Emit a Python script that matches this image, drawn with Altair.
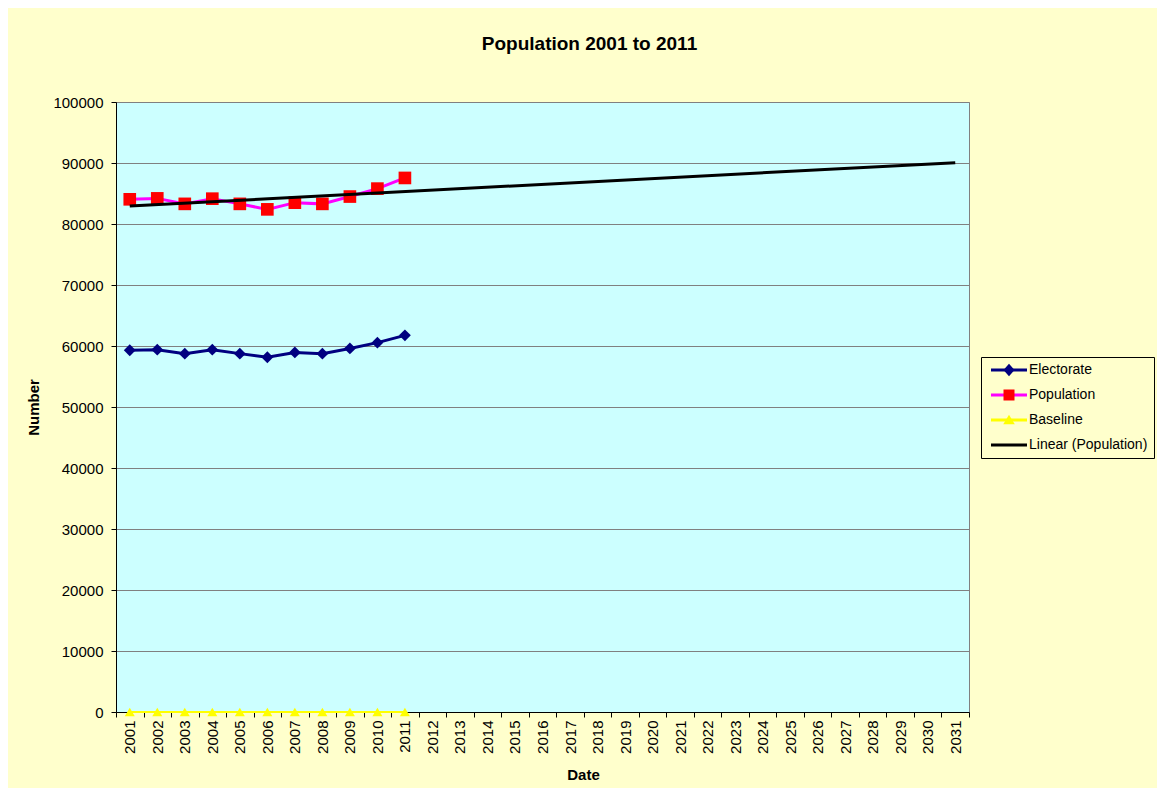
import altair as alt
import pandas as pd

FONT = "Liberation Sans"

# ---- data ----
years_all = [str(y) for y in range(2001, 2032)]
years_obs = [str(y) for y in range(2001, 2012)]
electorate = [59300, 59400, 58750, 59400, 58750, 58150, 58950, 58750, 59600, 60550, 61750]
population = [84050, 84200, 83300, 84150, 83300, 82400, 83500, 83300, 84500, 85800, 87550]
baseline = [0] * 11
trend_years = ["2001", "2031"]
trend_values = [82950, 90050]
y_ticks = list(range(0, 100001, 10000))

series_names = ["Electorate", "Population", "Baseline", "Linear (Population)"]
line_colors = ["#000080", "#FF00FF", "#FFFF00", "#000000"]
marker_colors = ["#000080", "#FF0000", "#FFFF00", "transparent"]

rows = []
for name, vals in [("Electorate", electorate), ("Population", population), ("Baseline", baseline)]:
    for yr, v in zip(years_obs, vals):
        rows.append({"year": yr, "series": name, "value": v})
df = pd.DataFrame(rows)
trend_df = pd.DataFrame({"year": trend_years, "value": trend_values, "series": "Linear (Population)"})

x_enc = alt.X(
    "year:O",
    bandPosition=0.5,
    scale=alt.Scale(type="band", domain=years_all, paddingInner=0, paddingOuter=0),
    axis=alt.Axis(
        title="Date", titleFont=FONT, titleFontSize=15, titleFontWeight="bold", titleColor="#000000",
        titleX=467, titleY=62, titleBaseline="middle", titleAlign="center",
        labelAngle=270, labelAlign="right", labelBaseline="middle", labelPadding=3,
        labelFont=FONT, labelFontSize=15, labelColor="#000000",
        tickBand="extent", tickColor="#000000", tickSize=5, domainColor="#000000",
        grid=False, labelOverlap=False,
    ),
)
y_enc = alt.Y(
    "value:Q",
    scale=alt.Scale(domain=[0, 100000], nice=False),
    axis=alt.Axis(
        title="Number", titleFont=FONT, titleFontSize=15, titleFontWeight="bold", titleColor="#000000",
        titleX=-83, titleY=305, titleAngle=270, titleBaseline="middle", titleAlign="center",
        values=y_ticks, format="d", labelFont=FONT, labelFontSize=15, labelColor="#000000",
        labelPadding=8, tickColor="#000000", tickSize=5, domainColor="#000000",
        grid=True, gridColor="#808080", gridWidth=1,
    ),
)

layers = []
specs = [
    ("Electorate", "#000080", "#000080", "diamond", 140, 3),
    ("Population", "#FF00FF", "#FF0000", "square", 160, 3),
    ("Baseline", "#FFFF00", "#FFFF00", "triangle-up", 100, 2),
]
for name, lc, mc, shp, sz, sw in specs:
    base = alt.Chart(df).transform_filter(alt.datum.series == name)
    layers.append(base.mark_line(color=lc, strokeWidth=sw).encode(x=x_enc, y=y_enc))
for name, lc, mc, shp, sz, sw in specs:
    base = alt.Chart(df).transform_filter(alt.datum.series == name)
    layers.append(
        base.mark_point(shape=shp, size=sz, filled=True, color=mc, opacity=1, strokeWidth=0).encode(x=x_enc, y=y_enc)
    )
layers.append(alt.Chart(trend_df).mark_line(color="#000000", strokeWidth=3).encode(x=x_enc, y=y_enc))

# legend: line part (with text) and marker part (overlaid, blank labels)
LINE_PATH = "M-0.6,0L6.6,0"
leg_common = dict(
    orient="none", legendX=865, legendY=255, title=None, padding=6, symbolSize=100,
    labelOffset=28, labelFont=FONT, labelFontSize=14, labelColor="#000000", rowPadding=11,
    labelLimit=300,
)
legend_lines = (
    alt.Chart(df)
    .transform_filter("false")
    .mark_point(shape=LINE_PATH, filled=False, strokeWidth=3, opacity=1)
    .encode(
        stroke=alt.Stroke(
            "series:N",
            scale=alt.Scale(domain=series_names, range=line_colors),
            legend=alt.Legend(
                symbolType=LINE_PATH, symbolStrokeWidth=3, strokeColor="#000000",
                fillColor="#FFFFCC", zindex=1, **leg_common
            ),
        )
    )
)
marker_keys = ["m1", "m2", "m3", "m4"]
marker_paths = [
    "M3,-1.25L4.1,0L3,1.25L1.9,0Z",
    "M1.9,-1.1L4.1,-1.1L4.1,1.1L1.9,1.1Z",
    "M3,-1.05L4.15,0.85L1.85,0.85Z",
    "M3,0L3.01,0L3,0.01Z",
]
legend_marks = (
    alt.Chart(df)
    .transform_filter("false")
    .transform_calculate(mk="'m1'")
    .mark_point(filled=True, strokeWidth=0, opacity=1)
    .encode(
        fill=alt.Fill(
            "mk:N",
            scale=alt.Scale(domain=marker_keys, range=marker_colors),
            legend=alt.Legend(symbolStrokeWidth=0, labelExpr="' '", zindex=2, **leg_common),
        ),
        shape=alt.Shape("mk:N", scale=alt.Scale(domain=marker_keys, range=marker_paths)),
    )
)
layers += [legend_lines, legend_marks]

chart = (
    alt.layer(*layers)
    .resolve_scale(fill="independent", stroke="independent", shape="independent")
    .properties(
        width=853,
        height=610,
        autosize=alt.AutoSizeParams(type="none"),
        padding={"left": 108, "top": 94, "right": 188, "bottom": 76},
        background="#FFFFCC",
        view=alt.ViewBackground(fill="#CCFFFF", stroke="#808080", strokeWidth=1),
        title=alt.Title(
            "Population 2001 to 2011", font=FONT, fontSize=19, fontWeight="bold", color="#000000",
            anchor="middle", dx=47, offset=41,
        ),
    )
    .configure_view(fill="#CCFFFF", stroke="#808080", strokeWidth=1)
)

chart.save("out.html", embed_options={"renderer": "svg", "actions": False})
